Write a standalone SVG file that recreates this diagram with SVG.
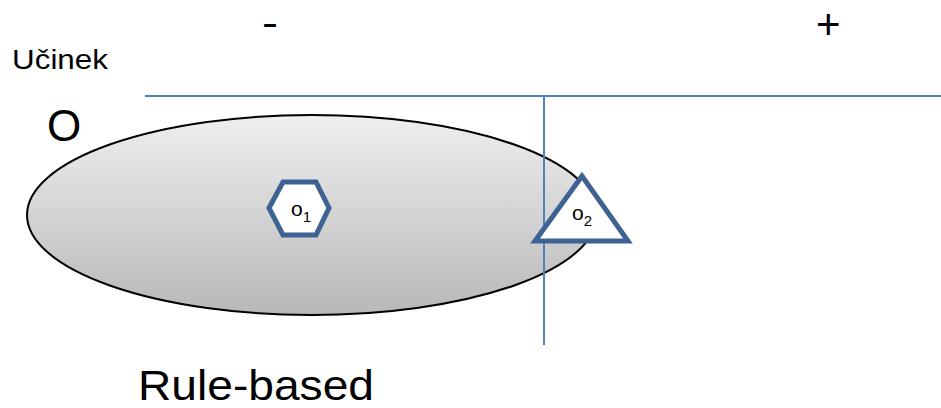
<svg xmlns="http://www.w3.org/2000/svg" width="941" height="408" viewBox="0 0 941 408">
<defs>
<linearGradient id="g" x1="0" y1="0" x2="0" y2="1">
<stop offset="0" stop-color="#efefef"/>
<stop offset="1" stop-color="#b8b8b8"/>
</linearGradient>
</defs>
<style>
text{font-family:"Liberation Sans",Arial,sans-serif;fill:#000}
.ax{stroke:#4f81bd;stroke-width:2;fill:none}
.sh{fill:#fff;stroke:#3d6293;stroke-width:5;stroke-linejoin:miter}
</style>
<rect width="941" height="408" fill="#fff"/>
<g id="set">
<ellipse cx="312" cy="215" rx="285" ry="100" fill="url(#g)" stroke="#000" stroke-width="2"/>
</g>
<g id="axes">
<line class="ax" x1="145" y1="96" x2="941" y2="96"/>
<line class="ax" x1="544" y1="96" x2="544" y2="345"/>
</g>
<g id="o1">
<polygon class="sh" points="269,208 283,182 316,182 329,208 316,235 283,235"/>
<text x="291" y="216" font-size="21">o<tspan font-size="15" dy="6">1</tspan></text>
</g>
<g id="o2">
<polygon class="sh" points="582,176 535,241 628,241"/>
<text x="572" y="220" font-size="21">o<tspan font-size="15" dy="6">2</tspan></text>
</g>
<g id="labels">
<text x="12" y="69" font-size="28" textLength="96" lengthAdjust="spacingAndGlyphs">Učinek</text>
<text x="47" y="141" font-size="44">O</text>
<text x="262" y="35" font-size="36" textLength="16" lengthAdjust="spacingAndGlyphs">-</text>
<text x="816" y="39" font-size="42">+</text>
<text x="138" y="400" font-size="42" textLength="236" lengthAdjust="spacingAndGlyphs">Rule-based</text>
</g>
</svg>
